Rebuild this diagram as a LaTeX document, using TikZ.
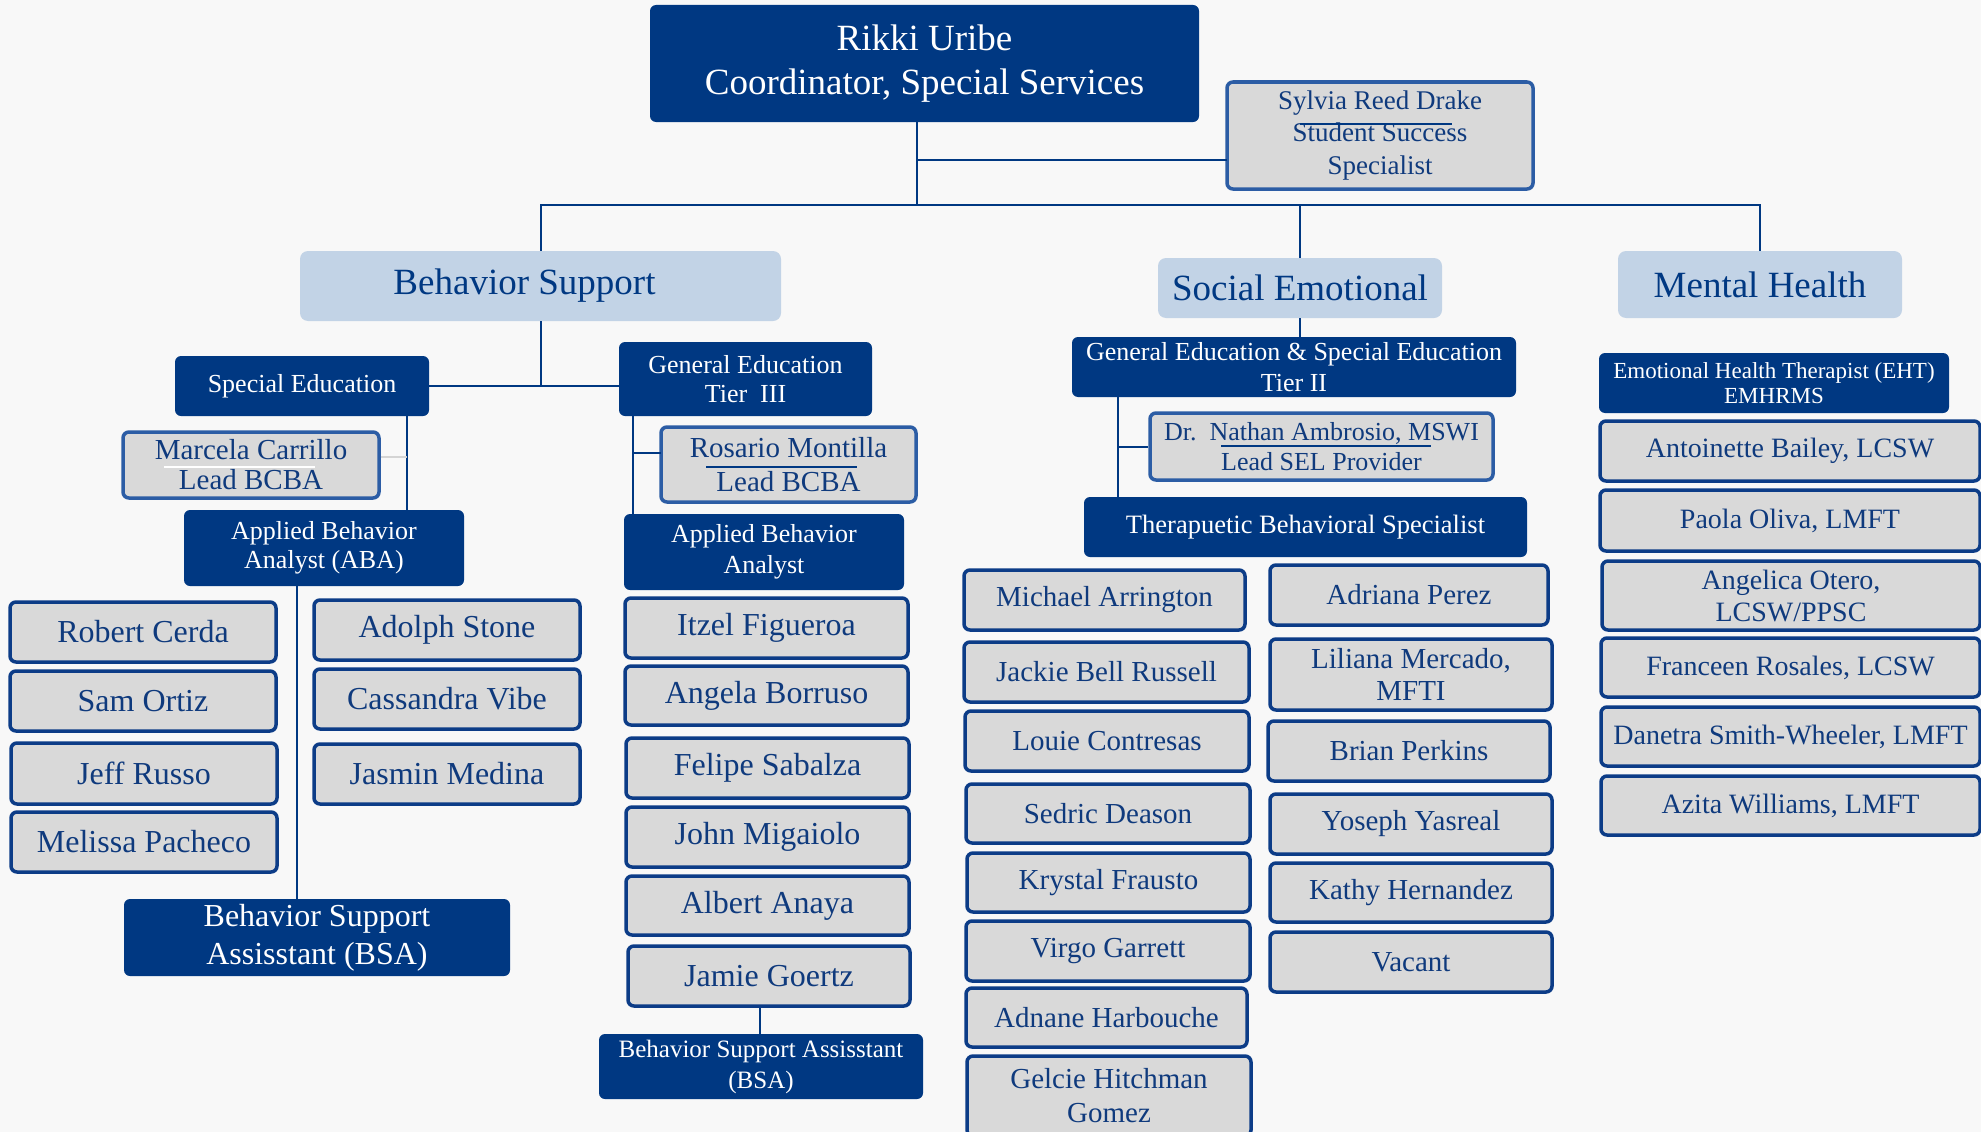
\documentclass[tikz,border=0pt]{standalone}
\usepackage{fontspec}
\setmainfont{Liberation Serif}
\definecolor{navy}{HTML}{003882}
\definecolor{headblue}{HTML}{C2D3E6}
\definecolor{boxgray}{HTML}{D9D9D9}
\definecolor{nameborder}{HTML}{0C3C87}
\definecolor{leadborder}{HTML}{2C5DA5}
\definecolor{nametext}{HTML}{0F3A7D}
\definecolor{bgcol}{HTML}{F8F8F8}
\definecolor{lightline}{HTML}{D4D4D4}
\newcommand\bx[9]{\node[#6,font={\fontsize{#7}{#8}\selectfont},minimum width={(#4)-(#2)},minimum height={(#5)-(#3)}] (#1) at ({((#2)+(#4))/2},{((#3)+(#5))/2}) {#9};}
\tikzset{
  darkbox/.style={inner sep=0pt, align=center, rounded corners=6pt, fill=navy, text=white},
  headbox/.style={inner sep=0pt, align=center, rounded corners=8pt, fill=headblue, text=navy},
  namebox/.style={inner sep=0pt, align=center, rounded corners=6pt, fill=boxgray, draw=nameborder, line width=3.5pt, text=nametext},
  leadbox/.style={inner sep=0pt, align=center, rounded corners=6pt, fill=boxgray, draw=leadborder, line width=3.5pt, text=nametext},
  conn/.style={draw=navy, line width=2pt}
}
\begin{document}
\begin{tikzpicture}[x=1pt,y=-1pt]
\useasboundingbox (0,0) rectangle (1981,1132);
\clip (0,0) rectangle (1981,1132);
\fill[bgcol] (0,0) rectangle (1981,1132);

% top
\bx{rikki}{650}{5}{1199}{122}{darkbox}{37}{44}{Rikki Uribe\\Coordinator, Special Services}
\bx{syl}{1227}{82}{1533}{189}{leadbox}{27}{32.5}{Sylvia Reed Drake\\Student Success\\Specialist}

% headings
\bx{bs}{300}{251}{781}{321}{headbox}{37}{44}{Behavior Support\hspace*{32pt}}
\bx{se}{1158}{258}{1442}{318}{headbox}{37}{44}{Social Emotional}
\bx{mh}{1618}{251}{1902}{318}{headbox}{37}{44}{Mental Health}

% behavior support
\bx{sped}{175}{356}{429}{416}{darkbox}{26}{29}{Special Education}
\bx{gened}{619}{342}{872}{416}{darkbox}{26}{29}{General Education\\Tier\ \ III}
\bx{marcela}{123}{432}{379}{498}{leadbox}{29}{30}{Marcela Carrillo\\Lead BCBA}
\bx{aba1}{184}{510}{464}{586}{darkbox}{26}{29}{Applied Behavior\\Analyst (ABA)}
\bx{rosario}{661}{427}{916}{502}{leadbox}{29}{34}{Rosario Montilla\\Lead BCBA}
\bx{aba2}{624}{514}{904}{590}{darkbox}{26}{31}{Applied Behavior\\Analyst}

\bx{robert}{10}{602}{276}{662}{namebox}{32}{36}{Robert Cerda}
\bx{sam}{10}{671}{276}{731}{namebox}{32}{36}{Sam Ortiz}
\bx{jeff}{11}{743}{277}{804}{namebox}{32}{36}{Jeff Russo}
\bx{melissa}{11}{812}{277}{872}{namebox}{32}{36}{Melissa Pacheco}
\bx{adolph}{314}{600}{580}{660}{namebox}{32}{36}{Adolph Stone}
\bx{cassandra}{314}{669}{580}{729}{namebox}{32}{36}{Cassandra Vibe}
\bx{jasmin}{314}{744}{580}{804}{namebox}{32}{36}{Jasmin Medina}
\bx{bsa1}{124}{899}{510}{976}{darkbox}{32}{38}{Behavior Support\\Assisstant (BSA)}

\bx{itzel}{625}{598}{908}{658}{namebox}{32}{36}{Itzel Figueroa}
\bx{angela}{625}{666}{908}{725}{namebox}{32}{36}{Angela Borruso}
\bx{felipe}{626}{738}{909}{798}{namebox}{32}{36}{Felipe Sabalza}
\bx{john}{626}{807}{909}{867}{namebox}{32}{36}{John Migaiolo}
\bx{albert}{626}{876}{909}{935}{namebox}{32}{36}{Albert Anaya}
\bx{jamie}{628}{946}{910}{1006}{namebox}{32}{36}{Jamie Goertz}
\bx{bsa2}{599}{1034}{923}{1099}{darkbox}{25}{31}{Behavior Support Assisstant\\(BSA)}

% social emotional
\bx{ge2}{1072}{337}{1516}{397}{darkbox}{26}{31}{General Education \& Special Education\\Tier II}
\bx{nathan}{1150}{413}{1493}{480}{leadbox}{26}{30}{Dr.\ \ Nathan Ambrosio, MSWI\\Lead SEL Provider}
\bx{tbs}{1084}{497}{1527}{557}{darkbox}{26.5}{30}{Therapuetic Behavioral Specialist}

\bx{michael}{964}{570}{1245}{630}{namebox}{29}{32}{Michael Arrington}
\bx{jackie}{964}{642}{1249}{702}{namebox}{29}{32}{Jackie Bell Russell}
\bx{louie}{965}{711}{1249}{771}{namebox}{29}{32}{Louie Contresas}
\bx{sedric}{966}{784}{1250}{843}{namebox}{29}{32}{Sedric Deason}
\bx{krystal}{967}{853}{1250}{912}{namebox}{29}{32}{Krystal Frausto}
\bx{virgo}{966}{921}{1250}{981}{namebox}{29}{32}{Virgo Garrett}
\bx{adnane}{966}{988}{1247}{1047}{namebox}{29}{32}{Adnane Harbouche}
\bx{gelcie}{967}{1056}{1251}{1136}{namebox}{29}{34}{Gelcie Hitchman\\Gomez}

\bx{adriana}{1270}{565}{1548}{625}{namebox}{29}{32}{Adriana Perez}
\bx{liliana}{1270}{639}{1552}{710}{namebox}{29}{32}{Liliana Mercado,\\MFTI}
\bx{brian}{1268}{721}{1550}{781}{namebox}{29}{32}{Brian Perkins}
\bx{yoseph}{1270}{794}{1552}{854}{namebox}{29}{32}{Yoseph Yasreal}
\bx{kathy}{1270}{863}{1552}{922}{namebox}{29}{32}{Kathy Hernandez}
\bx{vacant}{1270}{932}{1552}{992}{namebox}{29}{32}{Vacant}

% mental health
\bx{eht}{1599}{353}{1949}{413}{darkbox}{23}{25}{Emotional Health Therapist (EHT)\\EMHRMS}
\bx{antoinette}{1600}{421}{1980}{481}{namebox}{28}{32}{Antoinette Bailey, LCSW}
\bx{paola}{1600}{490}{1980}{551}{namebox}{28}{32}{Paola Oliva, LMFT}
\bx{angelica}{1602}{561}{1980}{630}{namebox}{28}{32}{Angelica Otero,\\LCSW/PPSC}
\bx{franceen}{1601}{638}{1980}{697}{namebox}{28}{32}{Franceen Rosales, LCSW}
\bx{danetra}{1601}{707}{1980}{766}{namebox}{28}{32}{Danetra Smith-Wheeler, LMFT}
\bx{azita}{1601}{776}{1980}{835}{namebox}{28}{32}{Azita Williams, LMFT}

% underlines
\draw[navy, line width=2.5pt] (1300,124) -- (1452,124);
\draw[white, line width=2pt] (164,467) -- (315,467);
\draw[navy, line width=2.5pt] (706,467) -- (857,467);
\draw[navy, line width=2.5pt] (1221,446) -- (1431,446);

% connectors
\coordinate (hub) at (917,205);
\coordinate (sylj) at (1227,160);
\draw[conn] (rikki.south -| hub) -- (hub);
\draw[conn] (sylj -| hub) -- (sylj);
\draw[conn] (bs.north) -- (bs.north |- hub) -- (mh.north |- hub) -- (mh.north);
\draw[conn] (se.north) -- (se.north |- hub);
\draw[conn] (se.south) -- (se.south |- ge2.north);

\draw[conn] (bs.south) -- (bs.south |- sped.east);
\draw[conn] (sped.east) -- (sped.east -| gened.west);
\coordinate (sx) at (407,457);
\draw[conn] (sped.south -| sx) -- (aba1.north -| sx);
\draw[lightline, line width=2.5pt] (marcela.east |- sx) -- (sx);
\coordinate (ax) at (297,0);
\draw[conn] (aba1.south -| ax) -- (bsa1.north -| ax);
\coordinate (gx) at (633,453);
\coordinate (rosj) at (661,453);
\draw[conn] (gened.south -| gx) -- (aba2.north -| gx);
\draw[conn] (gx) -- (rosj);
\coordinate (jx) at (760,0);
\draw[conn] (jamie.south -| jx) -- (bsa2.north -| jx);
\coordinate (tx) at (1118,0);
\draw[conn] (ge2.south -| tx) -- (tbs.north -| tx);
\draw[conn] (nathan.west -| tx) -- (nathan.west);
\end{tikzpicture}
\end{document}
